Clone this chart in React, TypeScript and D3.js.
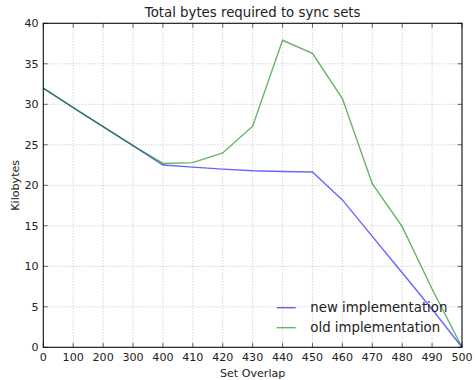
import React from "react";
import * as d3 from "d3";

const categories = ["0", "100", "200", "300", "400", "410", "420", "430", "440", "450", "460", "470", "480", "490", "500"];
const newImpl = [32, 29.6, 27.25, 24.9, 22.5, 22.25, 22.0, 21.8, 21.7, 21.65, 18.2, 13.7, 9.2, 4.7, 0];
const oldImpl = [32, 29.6, 27.25, 24.9, 22.7, 22.8, 24.0, 27.3, 37.9, 36.3, 30.7, 20.2, 14.9, 7.2, 0];
const yTicks = [0, 5, 10, 15, 20, 25, 30, 35, 40];
const seriesNames = ["new implementation", "old implementation"];

const W = 475, H = 380;
const L = 43.3, R = 462, T = 23.3, B = 347.3;
const FONT = "DejaVu Sans, sans-serif";

export default function App() {
  const x = d3.scalePoint<string>().domain(categories).range([L, R]);
  const y = d3.scaleLinear().domain([0, 40]).range([B, T]);
  const line = d3.line<number>().x((_, i) => x(categories[i]) as number).y((d) => y(d));
  const colors = ["rgba(0,0,255,0.6)", "rgba(0,128,0,0.6)"];
  const series = [newImpl, oldImpl];
  const tl = 4.4;
  return (
    <svg width={W} height={H} style={{ position: "absolute", left: 0, top: 0, background: "#fff" }}>
      <rect x={0} y={0} width={W} height={H} fill="#fff" />
      {categories.map((c) => (
        <line key={"gx" + c} x1={x(c)} x2={x(c)} y1={T} y2={B} stroke="#a8a8a8" strokeWidth={0.7} strokeDasharray="1,2" />
      ))}
      {yTicks.map((v) => (
        <line key={"gy" + v} x1={L} x2={R} y1={y(v)} y2={y(v)} stroke="#a8a8a8" strokeWidth={0.7} strokeDasharray="1,2" />
      ))}
      {series.map((s, i) => (
        <path key={"s" + i} d={line(s) as string} fill="none" stroke={colors[i]} strokeWidth={1.4} />
      ))}
      <rect x={L} y={T} width={R - L} height={B - T} fill="none" stroke="#111" strokeWidth={1.1} />
      {categories.map((c) => (
        <g key={"tx" + c}>
          <line x1={x(c)} x2={x(c)} y1={B} y2={B - tl} stroke="#000" strokeWidth={0.6} />
          <line x1={x(c)} x2={x(c)} y1={T} y2={T + tl} stroke="#000" strokeWidth={0.6} />
          <text x={x(c)} y={360.5} textAnchor="middle" fontFamily={FONT} fontSize={11.1} fill="#222">{c}</text>
        </g>
      ))}
      {yTicks.map((v) => (
        <g key={"ty" + v}>
          <line x1={L} x2={L + tl} y1={y(v)} y2={y(v)} stroke="#000" strokeWidth={0.6} />
          <line x1={R} x2={R - tl} y1={y(v)} y2={y(v)} stroke="#000" strokeWidth={0.6} />
          <text x={38.5} y={y(v)} dy="0.36em" textAnchor="end" fontFamily={FONT} fontSize={11.1} fill="#222">{v}</text>
        </g>
      ))}
      <text x={(L + R) / 2} y={17} textAnchor="middle" fontFamily={FONT} fontSize={13.3} fill="#222">Total bytes required to sync sets</text>
      <text x={(L + R) / 2} y={376.5} textAnchor="middle" fontFamily={FONT} fontSize={11.1} fill="#222">Set Overlap</text>
      <text transform={`translate(18.5,${(T + B) / 2}) rotate(-90)`} textAnchor="middle" fontFamily={FONT} fontSize={11.1} fill="#222">Kilobytes</text>
      {seriesNames.map((n, i) => (
        <g key={"lg" + i}>
          <line x1={276.7} x2={295.7} y1={307.7 + i * 20} y2={307.7 + i * 20} stroke={colors[i]} strokeWidth={1.4} />
          <text x={310.3} y={307.7 + i * 20} dy="0.36em" fontFamily={FONT} fontSize={13.3} fill="#222">{n}</text>
        </g>
      ))}
    </svg>
  );
}
